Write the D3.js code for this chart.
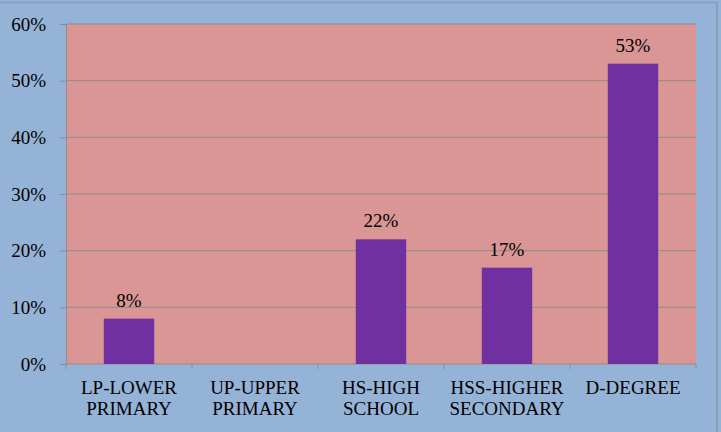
<!DOCTYPE html>
<html><head><meta charset="utf-8">
<script src="https://cdn.jsdelivr.net/npm/d3@7"></script>
</head><body style="margin:0;background:#95B3D7;overflow:hidden">
<svg id="c" width="721" height="432"></svg>
<script>
const categories = [["LP-LOWER","PRIMARY"],["UP-UPPER","PRIMARY"],["HS-HIGH","SCHOOL"],["HSS-HIGHER","SECONDARY"],["D-DEGREE"]];
const values = [0.08, 0, 0.22, 0.17, 0.53];
const valueLabels = ["8%", "", "22%", "17%", "53%"];
const yTicks = [0, 0.1, 0.2, 0.3, 0.4, 0.5, 0.6];

const svg = d3.select("#c");
const TS = 'font-family:"Liberation Serif","Times New Roman" !important;font-size:19px';
const W = 721, H = 432;
const m = {left: 66, right: 696, top: 24, bottom: 364};

svg.append("rect").attr("x", 0).attr("y", 0).attr("width", W).attr("height", H).attr("fill", "#95B3D7");
svg.append("rect").attr("x", -1).attr("y", 2.5).attr("width", 718).attr("height", 440)
  .attr("fill", "none").attr("stroke", "#8A9AB0").attr("stroke-width", 1.5);

const x = d3.scaleBand().domain(d3.range(categories.length)).range([m.left, m.right]).paddingInner(0.6).paddingOuter(0.3);
const xb = d3.scaleBand().domain(d3.range(categories.length)).range([m.left, m.right]);
const y = d3.scaleLinear().domain([0, 0.6]).range([m.bottom, m.top]);

svg.append("rect").attr("x", m.left).attr("y", m.top).attr("width", m.right - m.left).attr("height", m.bottom - m.top).attr("fill", "#D99694");

// gridlines
svg.append("g").selectAll("line").data(yTicks.filter(d => d > 0)).join("line")
  .attr("x1", m.left).attr("x2", m.right).attr("y1", d => y(d)).attr("y2", d => y(d))
  .attr("stroke", "#8C8C8C").attr("stroke-width", 1);

// y axis
const yAxis = d3.axisLeft(y).tickValues(yTicks).tickFormat(d3.format(".0%")).tickSize(6).tickPadding(14);
const gy = svg.append("g").attr("transform", `translate(${m.left},0)`).call(yAxis);
gy.attr("font-family", "Liberation Serif").attr("font-size", 19);
gy.select(".domain").attr("stroke", "#8C8C8C");
gy.selectAll(".tick line").attr("stroke", "#8C8C8C");
gy.selectAll("text").attr("style", TS).attr("fill", "#000").attr("dy", "0.33em");

// x axis
const gx = svg.append("g").attr("transform", `translate(0,${m.bottom})`);
gx.append("line").attr("x1", m.left).attr("x2", m.right).attr("stroke", "#8C8C8C");
gx.selectAll("line.t").data(d3.range(categories.length + 1)).join("line").attr("class", "t")
  .attr("x1", i => m.left + i * xb.bandwidth()).attr("x2", i => m.left + i * xb.bandwidth())
  .attr("y1", 0).attr("y2", 5).attr("stroke", "#8C8C8C");
const lab = gx.selectAll("text.c").data(categories).join("text").attr("class", "c")
  .attr("style", TS).attr("fill", "#000").attr("text-anchor", "middle");
lab.each(function(d, i) {
  const t = d3.select(this);
  d.forEach((s, k) => t.append("tspan").attr("x", xb(i) + xb.bandwidth() / 2).attr("y", 30 + k * 21).text(s));
});

// bars
svg.append("g").selectAll("rect").data(values).join("rect")
  .attr("x", (d, i) => x(i)).attr("width", x.bandwidth())
  .attr("y", d => y(d)).attr("height", d => y(0) - y(d)).attr("fill", "#7030A0");

// value labels
svg.append("g").selectAll("text").data(values).join("text")
  .attr("x", (d, i) => x(i) + x.bandwidth() / 2).attr("y", d => y(d) - 12)
  .attr("text-anchor", "middle").attr("style", TS).attr("fill", "#000")
  .text((d, i) => valueLabels[i]);
</script>
</body></html>
